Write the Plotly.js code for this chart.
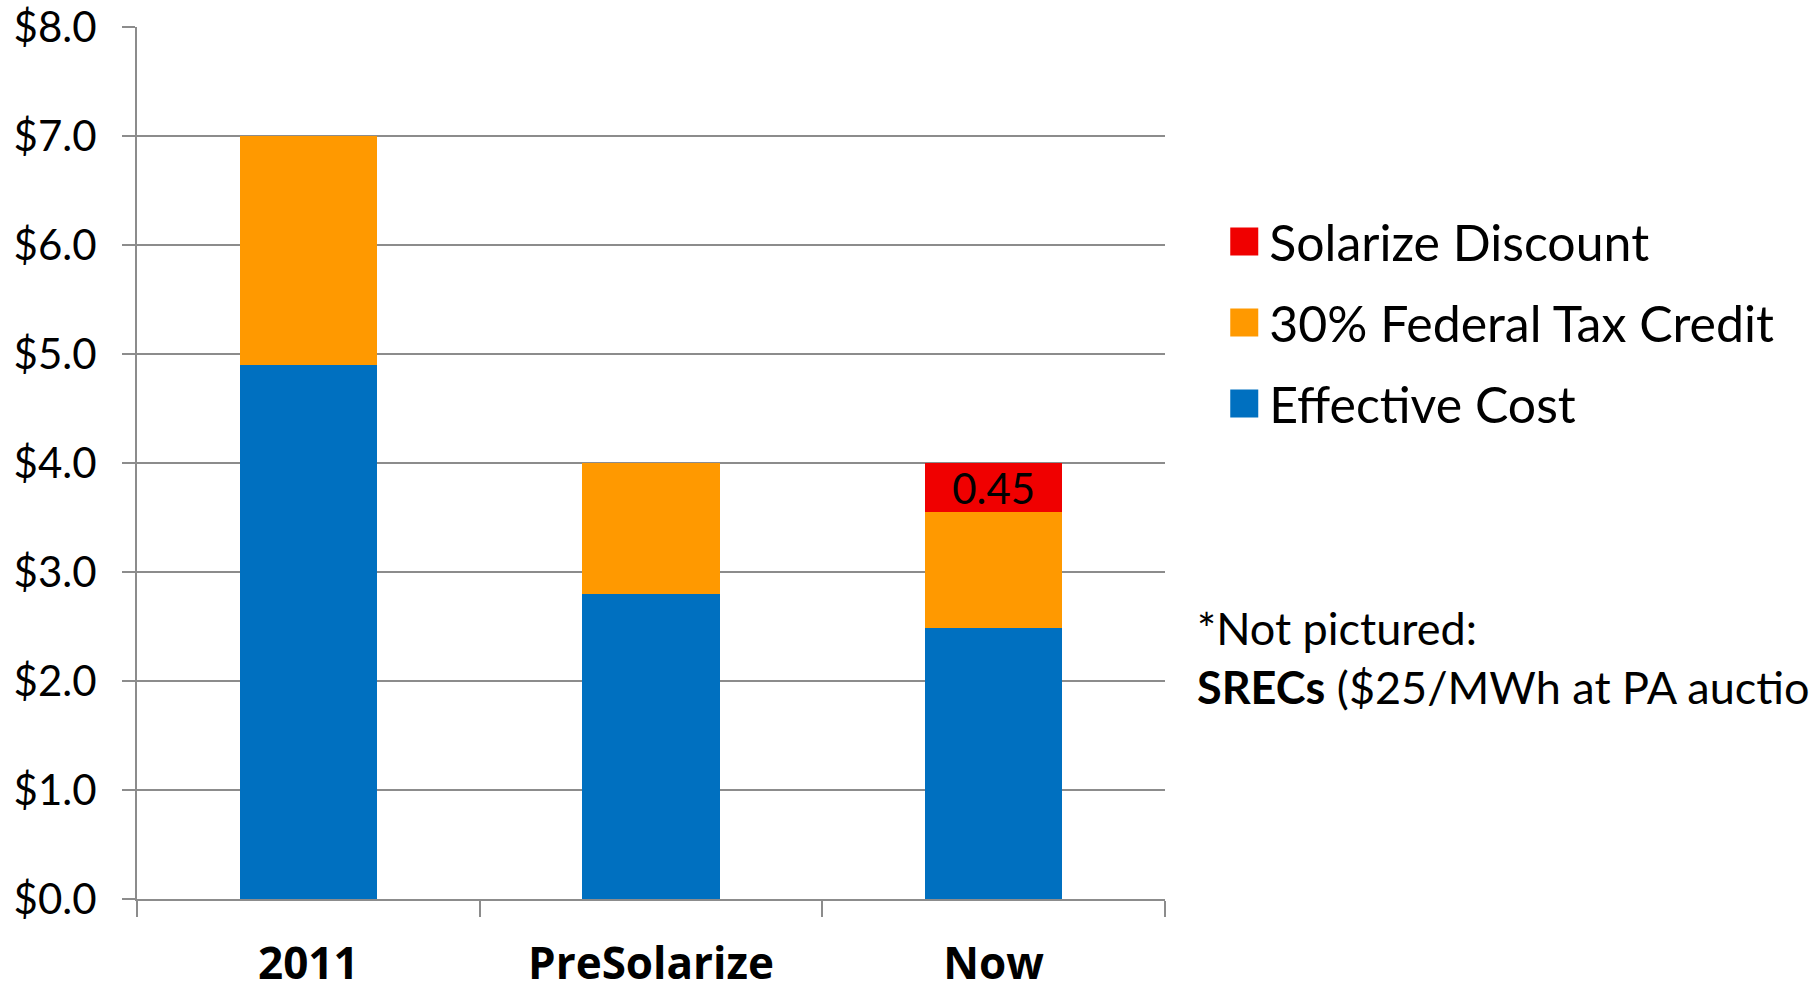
<!DOCTYPE html>
<html>
<head>
<meta charset="utf-8">
<script src="https://cdn.plot.ly/plotly-3.0.1.min.js"></script>
<style>html,body{margin:0;padding:0;background:#fff;}#chart{width:1809px;height:988px;}</style>
</head>
<body>
<div id="chart"></div>
<script>
const categories = ['2011', 'PreSolarize', 'Now'];
const effectiveCost = [4.9, 2.8, 2.485];
const taxCredit = [2.1, 1.2, 1.065];
const solarizeDiscount = [null, null, 0.45];
const discountLabels = ['', '', '0.45'];
const seriesNames = ['Effective Cost', '30% Federal Tax Credit', 'Solarize Discount'];
const seriesColors = ['#0070C0', '#FF9900', '#F00000'];
const yTickVals = [0, 1, 2, 3, 4, 5, 6, 7, 8];
const yTickText = ['$0.0', '$1.0', '$2.0', '$3.0', '$4.0', '$5.0', '$6.0', '$7.0', '$8.0'];
const footnoteLine1 = '*Not pictured:';
const footnoteBold = 'SRECs';
const footnoteRest = ' ($25/MWh at PA auction)';

const FONT = 'Lato, "Open Sans", sans-serif';
const XFONT = '"Open Sans", Lato, sans-serif';
const GRID = '#8C8C8C';

const traces = [
  {type: 'bar', x: categories, y: effectiveCost, name: seriesNames[0], legendgroup: 'a', legendrank: 3,
   marker: {color: seriesColors[0], line: {width: 0}}, hoverinfo: 'skip'},
  {type: 'bar', x: categories, y: taxCredit, name: seriesNames[1], legendgroup: 'b', legendrank: 2,
   marker: {color: seriesColors[1], line: {width: 0}}, hoverinfo: 'skip'},
  {type: 'bar', x: categories, y: solarizeDiscount, name: seriesNames[2], legendgroup: 'c', legendrank: 1,
   marker: {color: seriesColors[2], line: {width: 0}}, hoverinfo: 'skip',
   text: discountLabels, texttemplate: '%{text}', textposition: 'inside', insidetextanchor: 'middle',
   constraintext: 'none', textfont: {family: FONT, size: 42, color: '#000'}}
];

const layout = {
  width: 1809, height: 988,
  margin: {l: 137, r: 644, t: 27, b: 89, pad: 0},
  paper_bgcolor: '#fff', plot_bgcolor: '#fff',
  barmode: 'stack', bargap: 0.6,
  showlegend: true,
  legend: {
    xref: 'container', yref: 'container', x: 0.6751, y: 0.795, xanchor: 'left', yanchor: 'top',
    traceorder: 'grouped', tracegroupgap: 13, itemwidth: 38,
    font: {family: FONT, size: 50, color: '#000'}, bgcolor: 'rgba(0,0,0,0)', borderwidth: 0,
    itemclick: false, itemdoubleclick: false
  },
  xaxis: {
    type: 'category', range: [-0.5, 2.5], tickson: 'boundaries',
    ticks: 'outside', ticklen: 16, tickwidth: 2, tickcolor: GRID,
    showline: true, linecolor: GRID, linewidth: 2, showgrid: false, zeroline: false,
    tickfont: {family: XFONT, size: 44, color: '#000', weight: 'bold'},
    ticklabelstandoff: 25
  },
  yaxis: {
    range: [0, 8], tickvals: yTickVals, ticktext: yTickText,
    ticks: 'outside', ticklen: 13, tickwidth: 2, tickcolor: GRID,
    showline: true, linecolor: GRID, linewidth: 2,
    showgrid: true, gridcolor: GRID, gridwidth: 2, zeroline: false,
    tickfont: {family: FONT, size: 42, color: '#000'},
    ticklabelstandoff: 17
  },
  annotations: [{
    xref: 'paper', yref: 'paper', x: (1195 - 137) / (1809 - 137 - 644), y: (899 - 599) / 872,
    xanchor: 'left', yanchor: 'top', align: 'left', showarrow: false,
    text: footnoteLine1 + '<br><b>' + footnoteBold + '</b>' + footnoteRest,
    font: {family: FONT, size: 45, color: '#000'}
  }]
};

Plotly.newPlot('chart', traces, layout, {displayModeBar: false, staticPlot: true}).then(function () {
  document.querySelectorAll('.legend .legendpoints path').forEach(function (p) {
    p.setAttribute('d', 'M13,14H-15V-14H13Z');
  });
});
</script>
</body>
</html>
